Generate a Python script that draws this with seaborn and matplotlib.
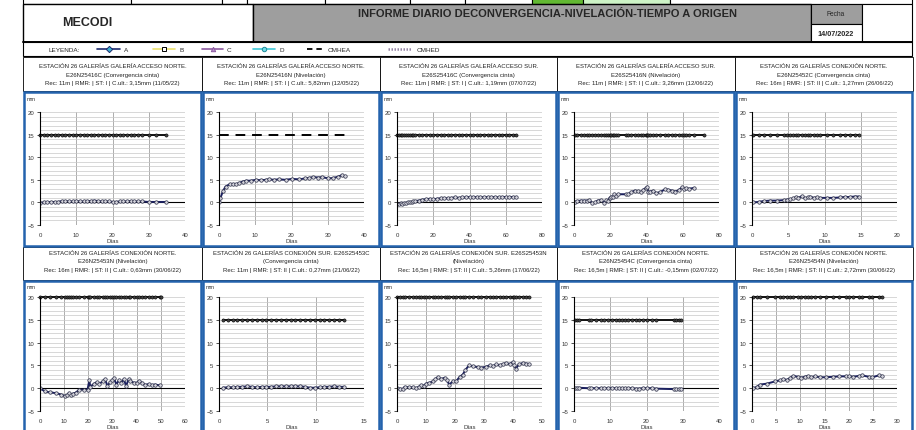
import numpy as np
import pandas as pd
import seaborn as sns
import matplotlib.pyplot as plt
from matplotlib.patches import Rectangle
from matplotlib.lines import Line2D
from matplotlib.transforms import Bbox, TransformedBbox

W, H = 916, 431

# ---- data (days, mm) ----
p1_days = [0, 1, 2, 3, 4, 5, 6, 7, 8, 9, 10, 11, 12, 13, 14, 15, 16, 17, 18, 19, 20, 21, 22, 23, 24, 25, 26, 27, 28, 30, 32, 34.7]
p1_mm = [-0.1, 0.0, 0.0, 0.1, 0.1, 0.1, 0.3, 0.3, 0.2, 0.2, 0.3, 0.2, 0.2, 0.3, 0.3, 0.4, 0.3, 0.2, 0.2, 0.2, 0.1, 0.1, 0.2, 0.2, 0.2, 0.3, 0.2, 0.2, 0.2, 0.1, 0.1, 0.1]

p2_days = [0, 0.4, 1.1, 1.8, 2.9, 3.8, 4.7, 5.6, 6.5, 7.5, 8.8, 10.2, 11.5, 12.9, 13.8, 15.1, 16.5, 18.4, 20.2, 22.0, 23.8, 24.7, 26.0, 27.4, 28.4, 30.2, 31.5, 32.9, 33.8, 34.7]
p2_mm = [0, 1.0, 2.5, 3.5, 4.0, 4.1, 4.0, 4.3, 4.6, 4.8, 4.8, 5.0, 4.9, 5.0, 5.1, 5.0, 5.1, 5.0, 5.2, 5.1, 5.3, 5.4, 5.6, 5.5, 5.6, 5.3, 5.4, 5.7, 6.0, 5.8]

p3_days = [0, 1, 2, 3, 4, 5, 6, 7, 8, 9, 10, 12, 14, 16, 18, 20, 22, 24, 26, 28, 30, 32, 34, 36, 38, 40, 42, 44, 46, 48, 50, 52, 54, 56, 58, 60, 62, 64, 65.7]
p3_mm = [-0.3, -0.4, -0.2, -0.3, -0.1, -0.2, 0.0, 0.1, 0.0, 0.2, 0.3, 0.4, 0.6, 0.7, 0.8, 0.7, 0.8, 0.9, 0.9, 0.9, 1.0, 1.1, 1.0, 1.1, 1.1, 1.2, 1.1, 1.2, 1.2, 1.1, 1.2, 1.1, 1.2, 1.1, 1.2, 1.2, 1.2, 1.2, 1.2]

p4_days = [0.6, 1.9, 3.7, 5.6, 7.4, 8.4, 10.2, 11.7, 13.0, 14.9, 16.8, 17.7, 18.6, 19.6, 20.5, 21.4, 22.3, 23.3, 24.2, 28.9, 29.8, 31.7, 33.5, 35.4, 37.2, 38.2, 39.7, 40.4, 41.0, 41.9, 43.8, 45.3, 47.5, 50.3, 52.1, 54.0, 55.9, 57.7, 59.6, 60.5, 62.0, 63.3, 66.1]
p4_mm = [0.0, 0.3, 0.4, 0.4, 0.4, 0.5, -0.2, 0.0, 0.4, 0.5, -0.1, 0.5, 0.3, 1.0, 1.3, 1.1, 1.8, 1.4, 1.8, 1.8, 1.8, 2.3, 2.6, 2.5, 2.3, 2.8, 3.2, 3.5, 2.2, 2.4, 2.6, 2.0, 2.3, 2.9, 2.8, 2.6, 2.4, 2.7, 3.3, 2.9, 3.2, 3.0, 3.2]

p5_days = [0.2, 0.9, 1.6, 2.5, 3.4, 4.4, 4.8, 5.3, 5.7, 6.1, 6.4, 6.9, 7.3, 7.7, 8.0, 8.5, 8.9, 9.4, 10.3, 11.2, 12.2, 12.8, 13.5, 14.2, 14.7]
p5_mm = [0.0, 0.1, 0.3, 0.4, 0.4, 0.5, 0.6, 0.7, 0.9, 1.2, 1.0, 1.4, 0.9, 1.1, 1.3, 1.0, 1.1, 1.0, 1.0, 1.0, 1.1, 1.2, 1.2, 1.3, 1.3]

p6_days = [0, 2.0, 4.1, 6.8, 8.8, 10.2, 11.3, 12.0, 12.7, 13.6, 14.7, 16.3, 18.4, 19.7, 20.4, 20.8, 22.4, 23.4, 24.5, 25.9, 26.9, 27.9, 29.0, 29.9, 30.6, 31.6, 32.7, 33.7, 34.7, 35.6, 36.7, 37.4, 38.8, 40.1, 40.8, 42.2, 43.5, 44.9, 46.3, 47.6, 49.7]
p6_mm = [0.0, -0.7, -0.9, -1.1, -1.4, -1.7, -1.5, -1.0, -1.4, -1.2, -1.0, -0.3, -0.3, -0.3, 1.8, 0.3, 1.0, 1.3, 0.9, 1.5, 2.0, 0.5, 1.3, 1.8, 2.2, 0.8, 1.8, 1.2, 2.0, 0.5, 2.0, 1.6, 1.2, 1.2, 1.5, 1.2, 0.7, 0.9, 0.7, 0.8, 0.6]

p7_days = [0.4, 0.9, 1.4, 1.9, 2.4, 2.9, 3.4, 3.9, 4.4, 4.9, 5.4, 5.9, 6.4, 6.9, 7.4, 7.9, 8.4, 8.9, 9.4, 9.9, 10.4, 10.9, 11.4, 11.9, 12.4, 12.9]
p7_mm = [0.1, 0.2, 0.2, 0.3, 0.3, 0.4, 0.3, 0.2, 0.3, 0.3, 0.3, 0.4, 0.4, 0.4, 0.4, 0.4, 0.4, 0.3, 0.1, 0.1, 0.2, 0.3, 0.3, 0.4, 0.3, 0.3]

p8_days = [0, 1.0, 2.0, 2.6, 4.0, 5.5, 6.6, 7.5, 8.4, 9.2, 10.0, 11.2, 12.4, 13.2, 14.0, 15.3, 16.4, 17.2, 18.0, 19.3, 20.4, 21.6, 22.7, 23.6, 24.8, 26.2, 27.9, 29.0, 30.7, 31.9, 33.0, 34.2, 35.4, 36.5, 37.6, 38.8, 39.9, 40.4, 41.0, 42.0, 43.3, 44.5, 45.6]
p8_mm = [0.0, -0.1, -0.2, 0.3, 0.2, 0.2, 0.0, 0.3, 0.7, 0.5, 1.0, 1.2, 1.5, 2.0, 2.4, 2.0, 2.3, 1.8, 0.8, 1.5, 1.5, 2.5, 3.0, 4.0, 5.0, 4.8, 4.6, 4.5, 4.7, 5.0, 4.8, 5.2, 5.0, 5.3, 5.5, 5.3, 5.7, 5.0, 4.3, 5.2, 5.5, 5.4, 5.3]

p9_days = [0.3, 0.8, 1.3, 4.0, 4.6, 6.0, 7.5, 8.2, 9.5, 10.5, 11.5, 12.5, 13.2, 14.0, 15.0, 16.0, 17.0, 18.0, 19.0, 20.0, 21.5, 22.5, 27.5, 28.2, 28.9, 29.5]
p9_mm = [0.0, 0.1, 0.1, 0.0, 0.0, 0.0, 0.0, 0.0, 0.0, 0.0, 0.0, 0.0, 0.0, 0.0, 0.0, 0.0, -0.1, -0.1, 0.0, 0.0, 0.0, -0.1, -0.2, -0.2, -0.2, -0.15]

p10_days = [0.3, 1.0, 1.7, 3.1, 4.8, 5.8, 6.5, 7.2, 7.8, 8.5, 9.5, 10.2, 10.9, 11.6, 12.3, 13.0, 14.0, 15.3, 16.7, 18.1, 19.4, 20.1, 20.8, 22.2, 22.8, 24.2, 24.9, 26.2, 26.9]
p10_mm = [0.0, 0.3, 0.8, 1.0, 1.5, 1.7, 2.0, 1.8, 2.2, 2.7, 2.5, 2.3, 2.5, 2.7, 2.4, 2.6, 2.4, 2.4, 2.5, 2.6, 2.6, 2.7, 2.5, 2.7, 2.8, 2.5, 2.4, 2.8, 2.7]

# alert limit per panel (mm) and last day of the limit line
limits = [15, 15, 15, 15, 15, 20, 15, 20, 15, 20]
limit_end = [34.7, 33.8, 65.7, 71.7, 14.7, 50.0, 12.9, 45.6, 29.5, 26.9]
x_max = [40, 40, 80, 80, 20, 60, 15, 50, 40, 30]
x_step = [10, 10, 20, 20, 5, 10, 5, 10, 10, 5]

titles = [
    ["ESTACIÓN 26 GALERÍAS GALERÍA ACCESO NORTE.", "E26N25416C (Convergencia cinta)", "Rec: 11m | RMR: | ST: I | C.ult.: 3,15mm (11/05/22)"],
    ["ESTACIÓN 26 GALERÍAS GALERÍA ACCESO NORTE.", "E26N25416N (Nivelación)", "Rec: 11m | RMR: | ST: I | C.ult.: 5,82mm (12/05/22)"],
    ["ESTACIÓN 26 GALERÍAS GALERÍA ACCESO SUR.", "E26S25416C (Convergencia cinta)", "Rec: 11m | RMR: | ST: I | C.ult.: 1,19mm (07/07/22)"],
    ["ESTACIÓN 26 GALERÍAS GALERÍA ACCESO SUR.", "E26S25416N (Nivelación)", "Rec: 11m | RMR: | ST: I | C.ult.: 3,26mm (12/06/22)"],
    ["ESTACIÓN 26 GALERÍAS CONEXIÓN NORTE.", "E26N25452C (Convergencia cinta)", "Rec: 16m | RMR: | ST: II | C.ult.: 1,27mm (26/06/22)"],
    ["ESTACIÓN 26 GALERÍAS CONEXIÓN NORTE.", "E26N25453N (Nivelación)", "Rec: 16m | RMR: | ST: II | C.ult.: 0,63mm (30/06/22)"],
    ["ESTACIÓN 26 GALERÍAS CONEXIÓN SUR. E26S25453C", "(Convergencia cinta)", "Rec: 11m | RMR: | ST: II | C.ult.: 0,27mm (21/06/22)"],
    ["ESTACIÓN 26 GALERÍAS CONEXIÓN SUR. E26S25453N", "(Nivelación)", "Rec: 16,5m | RMR: | ST: II | C.ult.: 5,26mm (17/06/22)"],
    ["ESTACIÓN 26 GALERÍAS CONEXIÓN NORTE.", "E26N25454C (Convergencia cinta)", "Rec: 16,5m | RMR: | ST: II | C.ult.: -0,15mm (02/07/22)"],
    ["ESTACIÓN 26 GALERÍAS CONEXIÓN NORTE.", "E26N25454N (Nivelación)", "Rec: 16,5m | RMR: | ST: II | C.ult.: 2,72mm (30/06/22)"],
]

all_days = [p1_days, p2_days, p3_days, p4_days, p5_days, p6_days, p7_days, p8_days, p9_days, p10_days]
all_mm = [p1_mm, p2_mm, p3_mm, p4_mm, p5_mm, p6_mm, p7_mm, p8_mm, p9_mm, p10_mm]

sns.set_style("white")
plt.rcParams['font.family'] = ['Liberation Sans', 'DejaVu Sans']

fig = plt.figure(figsize=(W / 100, H / 100), dpi=100)
bg = fig.add_axes([0, 0, 1, 1])
bg.set_xlim(0, W)
bg.set_ylim(H, 0)
bg.axis('off')


def frac(x, y, w, h):
    return [x / W, 1 - (y + h) / H, w / W, h / H]


def cell(x, y, w, h, fc='white', ec='black', lw=0.6, z=1):
    bg.add_patch(Rectangle((x, y), w, h, fc=fc, ec=ec, lw=lw, zorder=z))


# ---- top strip of the sheet ----
top_cells = [(23, 131, 'white'), (131, 222, 'white'), (222, 247, 'white'), (247, 325, 'white'),
             (325, 410, 'white'), (410, 465, 'white'), (465, 532, 'white'), (532, 583, '#62b832'),
             (583, 670, '#cdf3c6'), (670, 912, 'white')]
for x0, x1, c in top_cells:
    cell(x0, -3, x1 - x0, 8, fc=c, lw=0.8)

# header
cell(23, 5, 230, 38, lw=1.0)
cell(253, 5, 558, 38, fc='#9e9e9e', lw=1.0)
cell(811, 5, 51, 20, fc='#9e9e9e', lw=0.8)
cell(811, 25, 51, 18, lw=0.8)
cell(862, 5, 50, 38, lw=0.8)
bg.plot([23, 912], [43, 43], color='black', lw=1.4, zorder=3)
bg.text(87, 23, "MECODI", fontsize=9, fontweight='bold', ha='center', va='center', zorder=4)
bg.text(547, 14, "INFORME DIARIO DECONVERGENCIA-NIVELACIÓN-TIEMPO A ORIGEN", fontsize=8,
        fontweight='bold', ha='center', va='center', zorder=4)
bg.text(836, 15, "Fecha", fontsize=4.8, ha='center', va='center', zorder=4)
bg.text(836, 34, "14/07/2022", fontsize=5.2, fontweight='bold', ha='center', va='center', zorder=4)

# legend row
cell(23, 43, 889, 14, lw=0.8)
ly = 50
bg.text(64, ly, "LEYENDA:", fontsize=4.6, ha='center', va='center', zorder=4)
leg_items = [
    (97, 120, '#1c2a6e', '-', 'D', '#3bb0d0', '#1c2a6e', "A"),
    (153, 175, '#ece270', '-', 's', 'white', 'black', "B"),
    (202, 223, '#8c5aa0', '-', '^', '#b48cc8', '#8c5aa0', "C"),
    (253, 275, '#40c8d8', '-', 'o', '#70dce6', '#208898', "D"),
]
for x0, x1, lc, ls, mk, mfc, mec, lab in leg_items:
    bg.add_line(Line2D([x0, x1], [ly, ly], color=lc, lw=1.2, zorder=4))
    bg.add_line(Line2D([(x0 + x1) / 2], [ly], marker=mk, ms=3.2, mfc=mfc, mec=mec, mew=0.7, zorder=5))
    bg.text(x1 + 4, ly, lab, fontsize=4.6, ha='left', va='center', zorder=4)
bg.add_line(Line2D([307, 323], [ly, ly], color='black', lw=1.3, ls=(0, (3, 2.2)), zorder=4))
bg.text(328, ly, "CMHEA", fontsize=4.6, ha='left', va='center', zorder=4)
bg.add_line(Line2D([388, 412], [ly, ly], color='#9484a4', lw=1.8, ls=(0, (0.6, 0.6)), zorder=4))
bg.text(417, ly, "CMHED", fontsize=4.6, ha='left', va='center', zorder=4)

# ---- panels ----
lefts = [23, 202, 380, 557, 735]
rights = [202, 380, 557, 735, 913]
rows = [dict(t0=58, t1=92, b1=248, p0=113, p1=226, ty=[67, 75, 83], mm=100),
        dict(t0=248, t1=281, b1=434, p0=298, p1=412, ty=[254, 262, 271], mm=288)]

for i in range(10):
    r = rows[i // 5]
    L = lefts[i % 5]
    R = rights[i % 5]
    # title cell
    cell(L, r['t0'], R - L, r['t1'] - r['t0'], lw=0.6)
    clip = TransformedBbox(Bbox([[L + 1, r['t0']], [R - 1, r['t1']]]), bg.transData)
    for k, line in enumerate(titles[i]):
        t = bg.text((L + R) / 2, r['ty'][k], line, fontsize=4.3, ha='center', va='center',
                    color='#222222', zorder=4, clip_on=True)
        t.set_clip_box(clip)
    # blue chart box
    cell(L + 1, r['t1'] + 1, R - L - 2, r['b1'] - r['t1'] - 2, fc='white', ec='#2463ad', lw=1.8, z=2)
    bg.text(L + 4, r['mm'], "mm", fontsize=4.0, ha='left', va='center', color='#333333', zorder=4)

    ax = fig.add_axes(frac(L + 17, r['p0'], 145, r['p1'] - r['p0']))
    ax.set_facecolor('white')
    days = all_days[i]
    mm = all_mm[i]

    # alert limit line
    lx = list(days)
    if limit_end[i] > lx[-1]:
        lx.append(limit_end[i])
    ly_vals = [limits[i]] * len(lx)
    if i == 1:
        sns.lineplot(x=lx, y=ly_vals, ax=ax, color='black', lw=1.4, linestyle=(0, (5, 3.5)),
                     sort=False, errorbar=None)
    else:
        sns.lineplot(x=lx, y=ly_vals, ax=ax, color='black', lw=1.3, marker='o', markersize=2.3,
                     markeredgewidth=0.4, markeredgecolor='black', markerfacecolor='#444444',
                     sort=False, errorbar=None)
    ax.lines[-1].set_clip_on(False)

    # measured series
    sns.lineplot(x=days, y=mm, ax=ax, color='#1b2060', lw=1.4, marker='o', markersize=2.5,
                 markerfacecolor='#d6d6de', markeredgecolor='#2a2d45', markeredgewidth=0.5,
                 sort=False, errorbar=None)
    ax.axhline(0, color='black', lw=0.8, zorder=1.5)

    ax.set_xlim(0, x_max[i])
    ax.set_ylim(-5, 20)
    ax.set_xticks(np.arange(0, x_max[i] + 0.1, x_step[i]))
    ax.set_yticks([-5, 0, 5, 10, 15, 20])
    ax.set_yticks(np.arange(-5, 21, 1), minor=True)
    ax.grid(which='minor', axis='y', color='#c8c8c8', lw=0.5)
    ax.grid(which='major', axis='y', color='#c8c8c8', lw=0.5)
    ax.grid(which='major', axis='x', color='#a0a0a0', lw=0.6)
    ax.set_axisbelow(True)
    for s in ['top', 'right', 'bottom']:
        ax.spines[s].set_visible(False)
    ax.spines['left'].set_color('black')
    ax.spines['left'].set_linewidth(0.8)
    ax.tick_params(axis='y', which='major', left=True, length=2.5, width=0.6, labelsize=4.3, pad=1.5,
                   colors='#333333')
    ax.tick_params(axis='y', which='minor', left=False)
    ax.tick_params(axis='x', bottom=False, labelsize=4.3, pad=1.8, colors='#333333')
    ax.set_xlabel("Días", fontsize=4.3, labelpad=0.8, color='#333333')
    ax.set_ylabel("")

fig.savefig("out.png", dpi=100)
